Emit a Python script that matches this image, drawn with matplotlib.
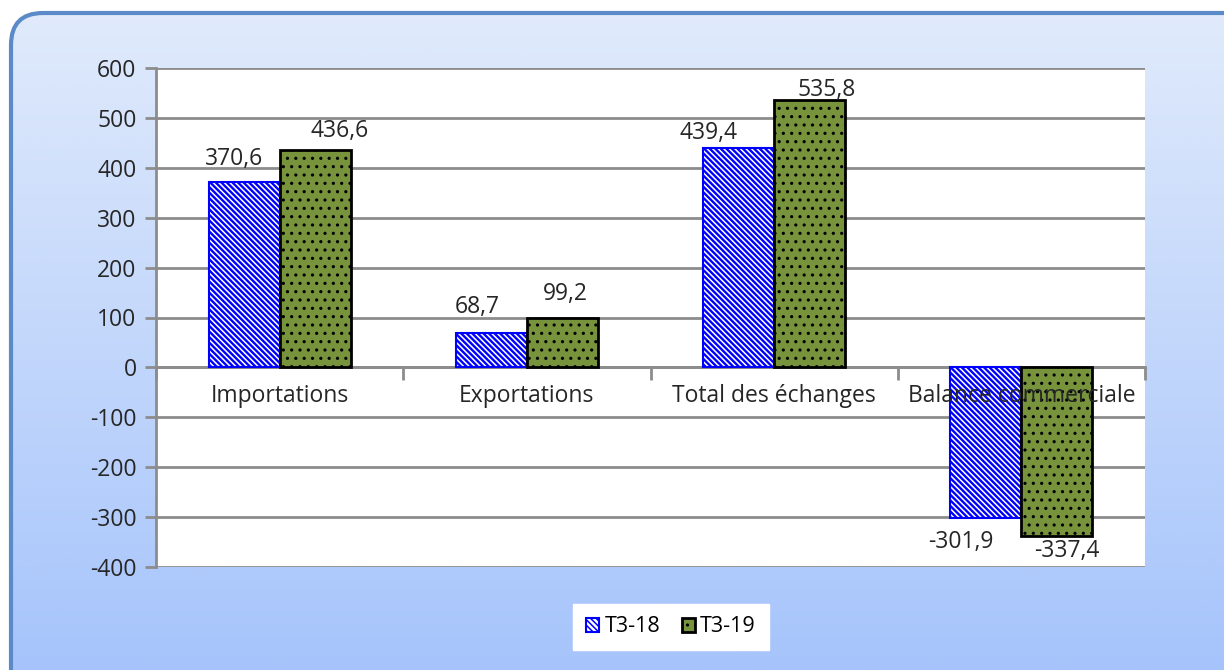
import matplotlib
matplotlib.use("Agg")
import matplotlib.pyplot as plt
import numpy as np
from matplotlib.patches import FancyBboxPatch
from matplotlib.colors import LinearSegmentedColormap

categories = ["Importations", "Exportations", "Total des échanges", "Balance commerciale"]
t3_18 = [370.6, 68.7, 439.4, -301.9]
t3_19 = [436.6, 99.2, 535.8, -337.4]
series_names = ["T3-18", "T3-19"]
yticks = [-400, -300, -200, -100, 0, 100, 200, 300, 400, 500, 600]

# manual label placement (pixels: dx, baseline distance from bar end)
lab_off_18 = [(-10, 17), (-14, 20), (-30, 9), (-25, 30)]
lab_off_19 = [(25, 13), (3, 18), (17, 4), (10, 21)]

plt.rcParams['font.family'] = ['Open Sans', 'DejaVu Sans']
FS = 16.5
TXT = '#262626'

W, H = 1224, 670
fig = plt.figure(figsize=(W / 100, H / 100), dpi=100)

# background rounded gradient box
bg_ax = fig.add_axes([0, 0, 1, 1], zorder=-10)
bg_ax.set_xlim(0, W)
bg_ax.set_ylim(H, 0)
bg_ax.axis('off')
cmap = LinearSegmentedColormap.from_list('bg', ['#e1ebfb', '#a6c4fb'])
grad = np.linspace(0, 1, 256).reshape(-1, 1)
im = bg_ax.imshow(grad, cmap=cmap, extent=[0, W, H, 0], aspect='auto', zorder=0)
box = FancyBboxPatch((11, 13), W + 40, H + 20, boxstyle="round,pad=0,rounding_size=32",
                     facecolor='none', edgecolor='#5b8ac8', linewidth=3, zorder=2)
bg_ax.add_patch(box)
clip = FancyBboxPatch((11, 13), W + 40, H + 20, boxstyle="round,pad=0,rounding_size=32",
                      facecolor='none', edgecolor='none', transform=bg_ax.transData)
bg_ax.add_patch(clip)
im.set_clip_path(clip)

ax = fig.add_axes([156 / W, 1 - 567 / H, (1145 - 156) / W, (567 - 68) / H])
ax.set_facecolor('white')

x = np.arange(len(categories))
bw = 0.287
plt.rcParams['hatch.linewidth'] = 1.7
b1 = ax.bar(x - bw / 2, t3_18, bw, facecolor='white', edgecolor='#0000ff', hatch='\\' * 6,
            linewidth=1.5, label=series_names[0], zorder=3)
plt.rcParams['hatch.linewidth'] = 1.1
b2 = ax.bar(x + bw / 2, t3_19, bw, facecolor='#77933c', edgecolor='black', hatch='..',
            linewidth=2, label=series_names[1], zorder=3)

ax.set_xlim(-0.5, len(categories) - 0.5)
ax.set_ylim(-400, 600)
ax.set_yticks(yticks)
ax.set_yticklabels([str(v) for v in yticks], fontsize=FS, color=TXT)
ax.yaxis.grid(True, color='#8c8c8c', linewidth=2, zorder=1)
ax.set_axisbelow(True)

for s in ['top', 'right']:
    ax.spines[s].set_visible(False)
ax.spines['left'].set_color('#8c8c8c')
ax.spines['left'].set_linewidth(2)
ax.spines['bottom'].set_position(('data', 0))
ax.spines['bottom'].set_color('#8c8c8c')
ax.spines['bottom'].set_linewidth(2)
ax.spines['bottom'].set_zorder(2)

ax.tick_params(axis='y', length=8, width=2, color='#8c8c8c', pad=6)
ax.set_xticks([])
ax.set_xticks(np.arange(-0.5, len(categories), 1.0), minor=True)
ax.tick_params(axis='x', which='minor', length=9, width=2, color='#8c8c8c', labelbottom=False)

# category labels drawn on top of the bars, just below the zero line
for xi, cat in zip(x, categories):
    ax.annotate(cat, (xi, 0), xytext=(0, -12), textcoords='offset points',
                ha='center', va='top', fontsize=FS, color=TXT, zorder=7)

def fmt(v):
    return f"{v:.1f}".replace('.', ',')

PX = 72 / 100  # pixels -> points
for bars, vals, offs in [(b1, t3_18, lab_off_18), (b2, t3_19, lab_off_19)]:
    for b, v, (dx, dy) in zip(bars, vals, offs):
        cx = b.get_x() + b.get_width() / 2
        sgn = 1 if v >= 0 else -1
        ax.annotate(fmt(v), (cx, v), xytext=(dx * PX, sgn * dy * PX), textcoords='offset points',
                    ha='center', va='baseline', fontsize=FS, color=TXT, zorder=6,
                    annotation_clip=False)

leg = fig.legend(handles=[b1, b2], labels=series_names, loc='center',
                 bbox_to_anchor=(671 / W, 1 - 627 / H), ncol=2, fontsize=15.5,
                 frameon=True, fancybox=False, edgecolor='white', facecolor='white',
                 framealpha=1, handlelength=0.6, handleheight=0.6, handletextpad=0.25,
                 columnspacing=1.0, borderpad=0.6, borderaxespad=0)

fig.savefig('out.png', dpi=100)
